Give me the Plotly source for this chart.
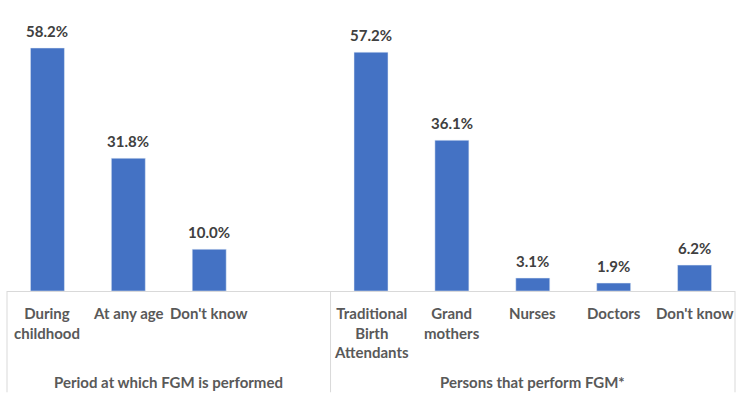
import plotly.graph_objects as go

groups = ["Period at which FGM is performed", "Persons that perform FGM*"]
group_sizes = [4, 5]
categories = ["During<br>childhood", "At any age", "Don't know", "",
              "Traditional<br>Birth<br>Attendants", "Grand<br>mothers", "Nurses", "Doctors", "Don't know"]
values = [58.2, 31.8, 10.0, None, 57.2, 36.1, 3.1, 1.9, 6.2]
labels = ["58.2%", "31.8%", "10.0%", "", "57.2%", "36.1%", "3.1%", "1.9%", "6.2%"]

BAR = "#4472C4"
GRID = "#D9D9D9"
FONT = "Lato"

xs = list(range(len(categories)))
fig = go.Figure()
fig.add_trace(go.Bar(x=xs, y=values, marker_color=BAR, width=0.42, hoverinfo="skip"))

ann = []
for x, v, t in zip(xs, values, labels):
    if v is not None:
        ann.append(dict(x=x, y=v, xref="x", yref="y", text=f"<b>{t}</b>", showarrow=False,
                        yanchor="bottom", yshift=6, font=dict(family=FONT, size=15, color="#404040")))
for x, c in zip(xs, categories):
    if c:
        ann.append(dict(x=x, y=0, xref="x", yref="paper", text=f"<b>{c}</b>", showarrow=False,
                        yanchor="top", yshift=-11, font=dict(family=FONT, size=15, color="#595959")))

total = sum(group_sizes)
shapes = []
start = 0
bounds = [0]
for g, n in zip(groups, group_sizes):
    center = start + (n - 1) / 2
    ann.append(dict(x=center, y=0, xref="x", yref="paper", text=f"<b>{g}</b>", showarrow=False,
                    yanchor="middle", yshift=-91, font=dict(family=FONT, size=15, color="#595959")))
    start += n
    bounds.append(start)
for b in bounds:
    shapes.append(dict(type="line", xref="paper", yref="paper", x0=b / total, x1=b / total,
                       y0=0, y1=-0.348, line=dict(color=GRID, width=1)))

fig.update_layout(
    width=744, height=398,
    margin=dict(l=7, r=9, t=0, b=107),
    plot_bgcolor="white", paper_bgcolor="white",
    showlegend=False,
    annotations=ann, shapes=shapes,
    xaxis=dict(range=[-0.5, total - 0.5], showticklabels=False, showgrid=False, zeroline=False,
               showline=True, linecolor=GRID, linewidth=1, ticks=""),
    yaxis=dict(range=[0, 69.7], visible=False, showgrid=False),
)
fig.write_html("out.html", config={"displayModeBar": False},
               post_script="document.body.style.margin='0';")
